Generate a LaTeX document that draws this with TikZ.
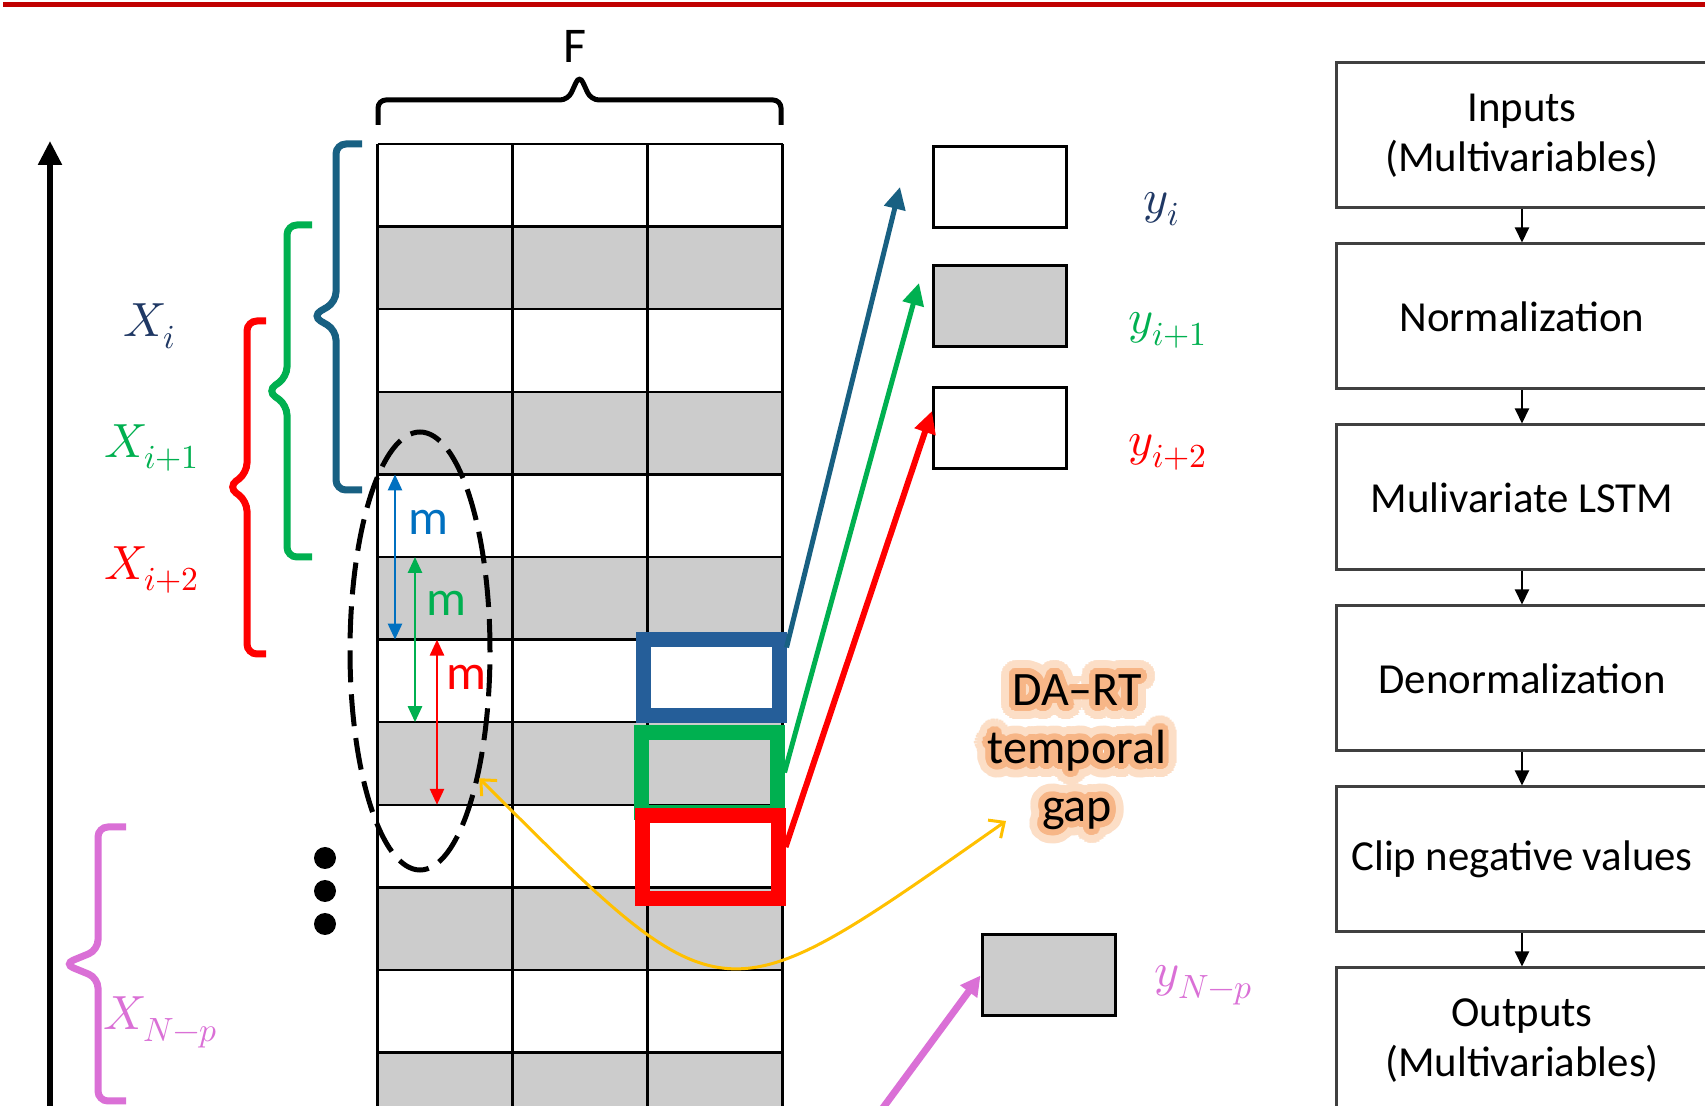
\documentclass[tikz,border=0pt]{standalone}
\usepackage{fontspec}
\setmainfont{Carlito}
\usepackage{unicode-math}
\usepackage{contour}
\usetikzlibrary{positioning,calc,arrows.meta,shapes.geometric}

\definecolor{topred}{RGB}{192,0,0}
\definecolor{cellgray}{RGB}{204,204,204}
\definecolor{bteal}{RGB}{24,96,130}
\definecolor{bnavy}{RGB}{31,56,100}
\definecolor{bbox}{RGB}{37,94,153}
\definecolor{mblue}{RGB}{0,112,192}
\definecolor{xgreen}{RGB}{0,176,80}
\definecolor{xred}{RGB}{255,0,0}
\definecolor{xpink}{RGB}{218,112,214}
\definecolor{ygold}{RGB}{255,192,0}
\definecolor{glow}{RGB}{247,182,135}
\definecolor{glowlt}{RGB}{252,222,198}

\contournumber{32}
\newcommand\glowline[1]{\rlap{\contourlength{7pt}\contour{glowlt}{#1}}\contourlength{3pt}\contour{glow}{#1}}

\begin{document}
\begin{tikzpicture}[x=0.5pt, y=-0.5pt,
  gridline/.style={line width=1.2pt},
  brk/.style={line width=3.5pt, rounded corners=5pt},
  lbl/.style={font=\fontsize{24}{29}\selectfont, inner sep=0pt},
  mlbl/.style={font=\fontsize{25}{30}\selectfont, inner sep=0pt},
  marr/.style={<->, >={Triangle[length=8pt,width=7pt]}, line width=1.3pt},
  hbox/.style={draw, line width=7.5pt, minimum width=68pt, inner sep=0pt},
  ybox/.style={draw, line width=1.5pt, fill=white, minimum width=66.5pt, minimum height=40.5pt, inner sep=0pt},
  outarr/.style={->, >={Triangle[length=11pt,width=10.5pt]}, line width=2.5pt},
  stage/.style={draw=black!75, line width=1.5pt, minimum width=186pt, minimum height=72.5pt, align=center, font=\fontsize{21.4}{25}\selectfont, inner sep=0pt},
  flow/.style={->, >={Triangle[length=7.5pt,width=7pt]}, line width=1pt},
  dot/.style={circle, fill, minimum size=11pt, inner sep=0pt}]

\useasboundingbox (0,0) rectangle (1705,1106);
\clip (0,0) rectangle (1705,1106);
\fill[white] (0,0) rectangle (1705,1106);

% top rule
\draw[topred, line width=2.5pt] (3,4.5) -- (1705,4.5);

% time axis
\coordinate (axbot) at (50,1120);
\coordinate (axtop) at (50,141);
\draw[->, >={Triangle[length=12pt,width=11.5pt]}, line width=2.7pt] (axbot) -- (axtop);

% data matrix
\foreach \r in {1,3,...,11}
  \fill[cellgray] (377.5,{144+82.6*\r}) rectangle (782.5,{144+82.6*(\r+1)});
\foreach \r in {0,...,12}{
  \coordinate (r\r) at (377.5,{144+82.6*\r});
  \draw[gridline] (r\r) -- ++(405,0);
}
\foreach \c in {0,...,3}
  \draw[gridline] ({377.5+135*\c},144) -- ++(0,1000);

% features brace
\node[font=\fontsize{25}{30}\selectfont] (flab) at (575,46) {F};
\draw[brk, line width=2.5pt, rounded corners=4pt] (378,125) -- (378,100) -- (568,100) -- (579.5,75) -- (591,100) -- (781,100) -- (781,125);

% window braces
\draw[brk, bteal] (362,144) -- (336,144) -- (336,302) -- (312,316) -- (336,330) -- (336,490) -- (362,490);
\draw[brk, xgreen] (312,225) -- (287,225) -- (287,377) -- (267,391) -- (287,405) -- (287,557) -- (312,557);
\draw[brk, xred] (266,321) -- (247,321) -- (247,473) -- (228,487) -- (247,501) -- (247,654) -- (266,654);
\draw[brk, xpink] (126,827) -- (98,827) -- (98,950) -- (64,964) -- (98,978) -- (98,1101) -- (126,1101);

\node[lbl, text=bnavy] (lXi) at (150,326) {$X_i$};
\node[lbl, text=xgreen] (lXii) at (152,448) {$X_{i+1}$};
\node[lbl, text=xred] (lXiii) at (152,570) {$X_{i+2}$};
\node[lbl, text=xpink] (lXN) at (161,1022) {$X_{N-p}$};

% dots
\node[dot] (dotA) at (325,858) {};
\node[dot] (dotB) at (325,891) {};
\node[dot] (dotC) at (325,924) {};

% gap window
\node[ellipse, draw, line width=2.5pt, dash pattern=on 16pt off 6pt, minimum width=70pt, minimum height=219pt, inner sep=0pt] (win) at (420,651) {};

\draw[marr, mblue] ([xshift=8.75pt]r4) -- ([xshift=8.75pt]r6);
\draw[marr, xgreen] ([xshift=18.75pt]r5) -- ([xshift=18.75pt]r7);
\draw[marr, xred] ([xshift=29.75pt]r6) -- ([xshift=29.75pt]r8);
\node[mlbl, text=mblue] (mA) at (428,522) {m};
\node[mlbl, text=xgreen] (mB) at (446,603) {m};
\node[mlbl, text=xred] (mC) at (466,677) {m};

% targets
\node[hbox, draw=bbox, minimum height=38pt] (hbA) at (711,677.5) {};
\node[hbox, draw=xgreen, minimum height=40pt] (hbB) at (709,772.5) {};
\node[hbox, draw=xred, minimum height=41.5pt] (hbC) at (710,857) {};

% outputs
\node[ybox] (yi) at (1000,187) {};
\node[ybox, fill=cellgray] (yii) at (1000,306) {};
\node[ybox] (yiii) at (1000,428.5) {};
\node[ybox, fill=cellgray] (yN) at (1048.5,975.5) {};

\node[lbl, text=bnavy] (lyi) at (1162,209) {$y_i$};
\node[lbl, text=xgreen] (lyii) at (1168,330) {$y_{i+1}$};
\node[lbl, text=xred] (lyiii) at (1168,452) {$y_{i+2}$};
\node[lbl, text=xpink] (lyN) at (1204,985) {$y_{N-p}$};

\draw[outarr, bteal] ([yshift=15pt]hbA.east) -- ([xshift=-16pt]yi.west);
\draw[outarr, xgreen] (hbB.east) -- ([xshift=-6.5pt,yshift=11.5pt]yii.west);
\draw[outarr, xred, line width=3pt] ([yshift=5pt]hbC.east) -- ([yshift=8.75pt]yiii.west);
\coordinate (nStart) at (860,1139);
\draw[->, >={Triangle[length=10pt,width=10pt]}, line width=3.5pt, xpink] (nStart) -- (yN.west);

% temporal gap note
\node[font=\fontsize{24}{29}\selectfont, align=center, inner sep=0pt] (dart) at (1077,759)
  {\glowline{DA–RT}\\\glowline{temporal}\\\glowline{gap}};
\coordinate (gapR) at (1006,821);
\draw[<->, >={Straight Barb[length=6pt,width=11pt]}, line width=1.5pt, ygold]
  (win.-65) to[out=-45, in=-145, looseness=1.7] (gapR);

% pipeline
\node[stage] (inp) at (1522,135.5) {Inputs\\(Multivariables)};
\node[stage, below=16.5pt of inp] (norm) {Normalization};
\node[stage, below=16.5pt of norm] (lstm) {Mulivariate LSTM};
\node[stage, below=16.5pt of lstm] (denorm) {Denormalization};
\node[stage, below=16.5pt of denorm] (clip) {Clip negative values};
\node[stage, below=16.5pt of clip] (outp) {Outputs\\(Multivariables)};

\draw[flow] (inp) -- (norm);
\draw[flow] (norm) -- (lstm);
\draw[flow] (lstm) -- (denorm);
\draw[flow] (denorm) -- (clip);
\draw[flow] (clip) -- (outp);
\end{tikzpicture}
\end{document}
